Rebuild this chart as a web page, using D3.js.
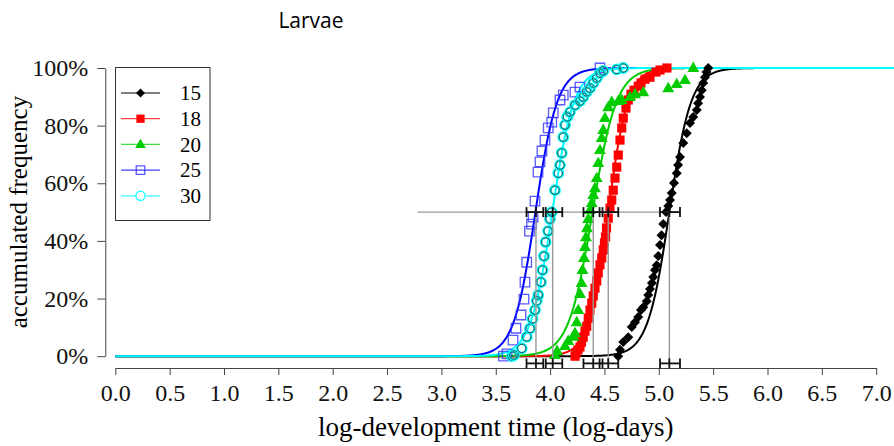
<!DOCTYPE html>
<html>
<head>
<meta charset="utf-8">
<script src="https://cdnjs.cloudflare.com/ajax/libs/d3/7.8.5/d3.min.js"></script>
<style>
    body { margin: 0; background: #fff; }
    svg { display: block; }
    .axis text { font-family: "Liberation Serif", "Times New Roman", serif; font-size: 24px; fill: #111; }
    .axis path, .axis line { stroke: #444; stroke-width: 1; }
</style>
</head>
<body>
<div id="chart"></div>
<script>
const w = 894,
    h = 446;

const temps = ['15', '18', '20', '25', '30'];
const colors = ['#000000', '#ff0000', '#00cc00', '#0000ff', '#00ffff'];

// fitted curves (logistic on log-time): location and scale
const fitLocation = [5.097, 4.535, 4.39, 3.865, 4.02];
const fitScale = [0.1, 0.09, 0.11, 0.1, 0.1];

// median development time with confidence interval
const medians = [5.097, 4.535, 4.397, 3.870, 4.024];
const ciLow = [5.011, 4.455, 4.307, 3.783, 3.960];
const ciHigh = [5.195, 4.627, 4.482, 3.937, 4.112];
const refLine = [2.78, 5.195];

const xTicks = [0, 0.5, 1, 1.5, 2, 2.5, 3, 3.5, 4, 4.5, 5, 5.5, 6, 6.5, 7];
const yTicks = [0, 0.2, 0.4, 0.6, 0.8, 1];

// observed accumulated frequencies [log-days, frequency]
const obs15 = [[4.627, 0], [4.643, 0.022], [4.673, 0.049], [4.719, 0.066], [4.751, 0.101], [4.781, 0.118],
    [4.811, 0.136], [4.836, 0.160], [4.857, 0.170], [4.889, 0.191], [4.903, 0.212], [4.919, 0.233],
    [4.937, 0.254], [4.949, 0.275], [4.965, 0.299], [4.981, 0.316], [4.995, 0.348], [5.011, 0.386],
    [5.025, 0.420], [5.041, 0.459], [5.066, 0.500], [5.087, 0.521], [5.103, 0.542], [5.119, 0.566],
    [5.140, 0.601], [5.165, 0.635], [5.177, 0.663], [5.195, 0.691], [5.225, 0.740], [5.257, 0.774],
    [5.287, 0.809], [5.317, 0.830], [5.349, 0.854], [5.361, 0.878], [5.379, 0.899], [5.395, 0.923],
    [5.409, 0.948], [5.425, 0.968], [5.439, 0.986], [5.455, 1.0]];
const obs18 = [[4.229, 0], [4.238, 0.011], [4.257, 0.022], [4.275, 0.032], [4.289, 0.049], [4.305, 0.066],
    [4.321, 0.087], [4.337, 0.104], [4.351, 0.132], [4.367, 0.160], [4.383, 0.184], [4.397, 0.209],
    [4.413, 0.236], [4.429, 0.261], [4.443, 0.289], [4.459, 0.317], [4.475, 0.341], [4.489, 0.369],
    [4.500, 0.393], [4.510, 0.414], [4.519, 0.445], [4.535, 0.479], [4.551, 0.514], [4.567, 0.542],
    [4.581, 0.576], [4.597, 0.618], [4.613, 0.656], [4.627, 0.698], [4.643, 0.750], [4.659, 0.792],
    [4.673, 0.826], [4.698, 0.861], [4.719, 0.889], [4.744, 0.909], [4.772, 0.923], [4.811, 0.937],
    [4.836, 0.948], [4.873, 0.961], [4.919, 0.968], [4.974, 0.986], [5.011, 0.993], [5.075, 1.0]];
const obs20 = [[4.045, 0.004], [4.064, 0.018], [4.137, 0.035], [4.167, 0.053], [4.213, 0.067], [4.229, 0.080],
    [4.245, 0.118], [4.259, 0.160], [4.275, 0.216], [4.289, 0.254], [4.298, 0.299], [4.312, 0.341],
    [4.321, 0.379], [4.330, 0.413], [4.339, 0.444], [4.351, 0.476], [4.367, 0.507], [4.383, 0.531],
    [4.397, 0.559], [4.413, 0.583], [4.429, 0.618], [4.443, 0.670], [4.459, 0.715], [4.475, 0.757],
    [4.489, 0.785], [4.505, 0.826], [4.535, 0.864], [4.567, 0.882], [4.627, 0.885], [4.659, 0.889],
    [4.735, 0.899], [4.781, 0.909], [4.857, 0.916], [5.087, 0.930], [5.165, 0.944], [5.241, 0.958],
    [5.317, 1.0]];
const obs25 = [[3.571, 0], [3.604, 0.008], [3.659, 0.056], [3.686, 0.097], [3.732, 0.143], [3.760, 0.198],
    [3.769, 0.257], [3.785, 0.326], [3.810, 0.434], [3.829, 0.458], [3.843, 0.483], [3.861, 0.538],
    [3.889, 0.639], [3.907, 0.674], [3.925, 0.712], [3.953, 0.750], [3.983, 0.792], [4.015, 0.812],
    [4.029, 0.844], [4.091, 0.889], [4.121, 0.906], [4.229, 0.916], [4.275, 0.934], [4.459, 1.0]];
const obs30 = [[3.650, 0], [3.668, 0.004], [3.739, 0.027], [3.785, 0.067], [3.815, 0.096], [3.838, 0.129],
    [3.861, 0.160], [3.877, 0.192], [3.891, 0.212], [3.916, 0.257], [3.930, 0.299], [3.944, 0.347],
    [3.959, 0.396], [3.981, 0.434], [3.999, 0.476], [4.015, 0.500], [4.045, 0.576], [4.075, 0.635],
    [4.091, 0.663], [4.107, 0.705], [4.121, 0.760], [4.137, 0.802], [4.158, 0.830], [4.183, 0.847],
    [4.229, 0.871], [4.275, 0.885], [4.305, 0.899], [4.337, 0.917], [4.367, 0.930], [4.397, 0.948],
    [4.429, 0.965], [4.459, 0.982], [4.489, 0.990], [4.613, 0.995], [4.673, 1.0]];
const observed = [obs15, obs18, obs20, obs25, obs30];

const x = d3.scaleLinear().domain([0, 7]).range([115.3, 876.2]);
const y = d3.scaleLinear().domain([0, 1]).range([356.2, 68]);

const svg = d3.select("#chart").append("svg")
    .attr("width", w)
    .attr("height", h);

function logistic(t, i) {
    return 1 / (1 + Math.exp(-(t - fitLocation[i]) / fitScale[i]));
}

// marker drawing, one style per temperature
function marker(g, i, cx, cy, legend) {
    let k = legend ? 0.9 : 1;
    if (i === 0) {
        g.append("path")
            .attr("d", d3.symbol(d3.symbolSquare, 50 * k * k)())
            .attr("transform", "translate(" + cx + "," + cy + ") rotate(45)")
            .attr("fill", "#000");
    } else if (i === 1) {
        g.append("path")
            .attr("d", d3.symbol(d3.symbolSquare, 84 * k * k)())
            .attr("transform", "translate(" + cx + "," + cy + ")")
            .attr("fill", colors[1]);
    } else if (i === 2) {
        g.append("path")
            .attr("d", d3.symbol(d3.symbolTriangle, 62 * k * k)())
            .attr("transform", "translate(" + cx + "," + (cy + 0.5) + ")")
            .attr("fill", colors[2]);
    } else if (i === 3) {
        g.append("path")
            .attr("d", d3.symbol(d3.symbolSquare, 90 * k * k)())
            .attr("transform", "translate(" + cx + "," + cy + ")")
            .attr("fill", "none")
            .attr("stroke", "#3030ff")
            .attr("stroke-opacity", 0.8)
            .attr("stroke-width", 1.3);
    } else {
        if (!legend) {
            g.append("circle").attr("cx", cx).attr("cy", cy).attr("r", 4.6)
                .attr("fill", "none").attr("stroke", colors[4]).attr("stroke-width", 2.6);
            g.append("circle").attr("cx", cx).attr("cy", cy).attr("r", 4.2)
                .attr("fill", "none").attr("stroke", "#333").attr("stroke-width", 0.9);
        } else {
            g.append("circle").attr("cx", cx).attr("cy", cy).attr("r", 4.6)
                .attr("fill", "#fff").attr("stroke", colors[4]).attr("stroke-width", 1.2);
        }
    }
}

// axes
svg.append("g")
    .attr("class", "axis")
    .attr("transform", "translate(0,368)")
    .call(d3.axisBottom(x).tickValues(xTicks).tickFormat(d3.format(".1f")).tickSize(7).tickSizeOuter(0).tickPadding(9));

svg.append("g")
    .attr("class", "axis")
    .attr("transform", "translate(105.3,0)")
    .call(d3.axisLeft(y).tickValues(yTicks).tickFormat(d3.format(".0%")).tickSize(8).tickSizeOuter(0).tickPadding(9));

svg.append("text")
    .attr("x", (x(0) + x(7)) / 2)
    .attr("y", 436)
    .attr("text-anchor", "middle")
    .style("font-family", "'Liberation Serif', serif")
    .style("font-size", "27px")
    .text("log-development time (log-days)");

svg.append("text")
    .attr("transform", "translate(27," + y(0.5) + ") rotate(-90)")
    .attr("text-anchor", "middle")
    .style("font-family", "'Liberation Serif', serif")
    .style("font-size", "25px")
    .text("accumulated frequency");

svg.append("text")
    .attr("x", 311)
    .attr("y", 28)
    .attr("text-anchor", "middle")
    .style("font-family", "'Open Sans', sans-serif")
    .style("font-size", "21px")
    .text("Larvae");

// fitted curves
let ts = d3.range(0, 7.35, 0.005);
let line = d3.line().x(d => x(d[0])).y(d => y(d[1]));
temps.forEach(function (t, i) {
    svg.append("path")
        .datum(ts.map(v => [v, logistic(v, i)]))
        .attr("fill", "none")
        .attr("stroke", colors[i])
        .attr("stroke-width", 2)
        .attr("d", line);
});

// observed points
temps.forEach(function (t, i) {
    let g = svg.append("g");
    observed[i].forEach(function (d) {
        marker(g, i, x(d[0]), y(d[1]), false);
    });
});

// reference lines and median intervals
let ref = svg.append("g").attr("stroke", "#999").attr("stroke-width", 1.4);
ref.append("line")
    .attr("x1", x(refLine[0])).attr("x2", x(refLine[1]))
    .attr("y1", y(0.5)).attr("y2", y(0.5));
medians.forEach(function (m) {
    ref.append("line")
        .attr("x1", x(m)).attr("x2", x(m))
        .attr("y1", y(0.5)).attr("y2", y(-0.025));
});

let bars = svg.append("g").attr("stroke", "#111").attr("stroke-width", 1.8);
[0.5, -0.025].forEach(function (level) {
    let yy = y(level);
    medians.forEach(function (m, i) {
        bars.append("line").attr("x1", x(ciLow[i])).attr("x2", x(ciHigh[i])).attr("y1", yy).attr("y2", yy);
        [ciLow[i], m, ciHigh[i]].forEach(function (v) {
            bars.append("line").attr("x1", x(v)).attr("x2", x(v)).attr("y1", yy - 5).attr("y2", yy + 5);
        });
    });
});

// legend
let legend = svg.append("g");
legend.append("rect")
    .attr("x", 115.5).attr("y", 67.5)
    .attr("width", 94.5).attr("height", 153)
    .attr("fill", "#fff")
    .attr("stroke", "#333");
temps.forEach(function (t, i) {
    let ly = 93 + i * 25.7;
    legend.append("line")
        .attr("x1", 121).attr("x2", 160)
        .attr("y1", ly).attr("y2", ly)
        .attr("stroke", colors[i])
        .attr("stroke-opacity", i === 0 ? 1 : 0.75)
        .attr("stroke-width", 1.2);
    marker(legend, i, 140.5, ly, true);
    legend.append("text")
        .attr("x", 180).attr("y", ly)
        .attr("dy", "0.35em")
        .style("font-family", "'Liberation Serif', serif")
        .style("font-size", "21px")
        .text(t);
});
</script>
</body>
</html>
